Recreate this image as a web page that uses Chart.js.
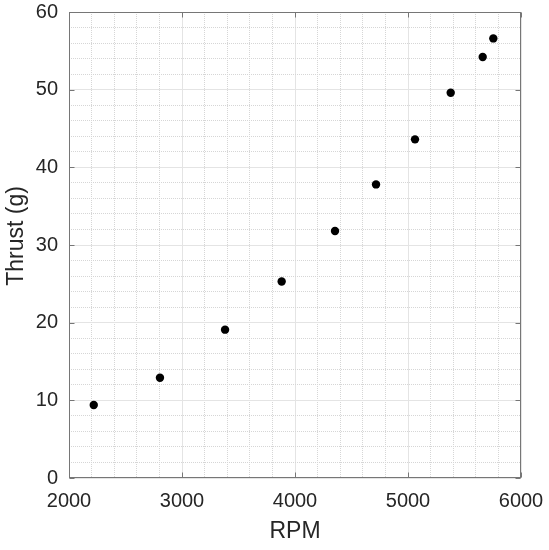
<!DOCTYPE html>
<html>
<head>
<meta charset="utf-8">
<script src="https://cdn.jsdelivr.net/npm/chart.js@4/dist/chart.umd.min.js"></script>
<style>
  html, body { margin: 0; padding: 0; background: #ffffff; }
  #wrap { width: 549px; height: 550px; }
</style>
</head>
<body>
<div id="wrap"><canvas id="c" width="549" height="550"></canvas></div>
<script>
// ---- data ----
const rpm    = [2219, 2805, 3381, 3882, 4354, 4717, 5062, 5378, 5661, 5755];
const thrust = [9.4, 12.9, 19.1, 25.3, 31.8, 37.8, 43.6, 49.6, 54.2, 56.6];
const xTickLabels = [2000, 3000, 4000, 5000, 6000];
const yTickLabels = [0, 10, 20, 30, 40, 50, 60];
const xTitle = 'RPM';
const yTitle = 'Thrust (g)';

const FONT = '"Liberation Sans", Arial, Helvetica, sans-serif';
const BOX = '#767676';
const TEXT = '#262626';
const MAJOR = '#e4e4e4';
const MINOR = '#d6d6d6';

function isMajor(list, v) { return list.some(t => Math.abs(t - v) < 1e-6); }

const boxPlugin = {
  id: 'boxPlugin',
  afterDatasetsDraw(chart) {
    const {ctx, chartArea: a, scales} = chart;
    ctx.save();
    ctx.strokeStyle = BOX;
    ctx.lineWidth = 1;
    const L = Math.round(a.left) + 0.5, R = Math.round(a.right) - 0.5;
    const T = Math.round(a.top) + 0.5, B = Math.round(a.bottom) - 0.5;
    ctx.strokeRect(L, T, R - L, B - T);
    const tl = 5;
    ctx.beginPath();
    xTickLabels.forEach(v => {
      const px = Math.round(scales.x.getPixelForValue(v)) + 0.5;
      ctx.moveTo(px, B); ctx.lineTo(px, B - tl);
      ctx.moveTo(px, T); ctx.lineTo(px, T + tl);
    });
    yTickLabels.forEach(v => {
      const py = Math.round(scales.y.getPixelForValue(v)) + 0.5;
      ctx.moveTo(L, py); ctx.lineTo(L + tl, py);
      ctx.moveTo(R, py); ctx.lineTo(R - tl, py);
    });
    ctx.stroke();
    // y-axis title
    ctx.fillStyle = TEXT;
    ctx.font = '23px ' + FONT;
    ctx.textAlign = 'center';
    ctx.textBaseline = 'middle';
    ctx.translate(17, 236);
    ctx.rotate(-Math.PI / 2);
    ctx.fillText(yTitle, 0, 0);
    ctx.restore();
  }
};

new Chart(document.getElementById('c'), {
  type: 'scatter',
  data: {
    datasets: [{
      data: rpm.map((x, i) => ({x: x, y: thrust[i]})),
      backgroundColor: '#000000',
      borderWidth: 0,
      pointRadius: 4.2,
      pointHoverRadius: 4.2
    }]
  },
  options: {
    responsive: false,
    animation: false,
    devicePixelRatio: 1,
    layout: { padding: { top: 12, right: 28, left: 0, bottom: 0 } },
    plugins: { legend: { display: false }, tooltip: { enabled: false } },
    scales: {
      x: {
        type: 'linear',
        min: 2000, max: 6000,
        afterFit(s) { s.height = 72; s.paddingLeft = 0; s.paddingRight = 0; },
        ticks: {
          stepSize: 200, autoSkip: false, maxRotation: 0, padding: 13,
          color: TEXT, font: { family: FONT, size: 20, lineHeight: 1 },
          callback: v => isMajor(xTickLabels, v) ? String(v) : ''
        },
        grid: {
          drawTicks: false,
          lineWidth: 1,
          color: c => (c.tick && isMajor(xTickLabels, c.tick.value)) ? MAJOR : MINOR
        },
        border: {
          display: false,
          dash: c => (c.tick && !isMajor(xTickLabels, c.tick.value)) ? [1, 1] : []
        },
        title: {
          display: true, text: xTitle, color: TEXT,
          font: { family: FONT, size: 23, lineHeight: 1 },
          padding: { top: 0, bottom: 7 }
        }
      },
      y: {
        type: 'linear',
        min: 0, max: 60,
        afterFit(s) { s.width = 69; s.paddingTop = 0; s.paddingBottom = 0; },
        ticks: {
          stepSize: 2, autoSkip: false, padding: 11,
          color: TEXT, font: { family: FONT, size: 20, lineHeight: 1 },
          callback: v => isMajor(yTickLabels, v) ? String(v) : ''
        },
        grid: {
          drawTicks: false,
          lineWidth: 1,
          color: c => (c.tick && isMajor(yTickLabels, c.tick.value)) ? MAJOR : MINOR
        },
        border: {
          display: false,
          dash: c => (c.tick && !isMajor(yTickLabels, c.tick.value)) ? [1, 1] : []
        }
      }
    }
  },
  plugins: [boxPlugin]
});
</script>
</body>
</html>
